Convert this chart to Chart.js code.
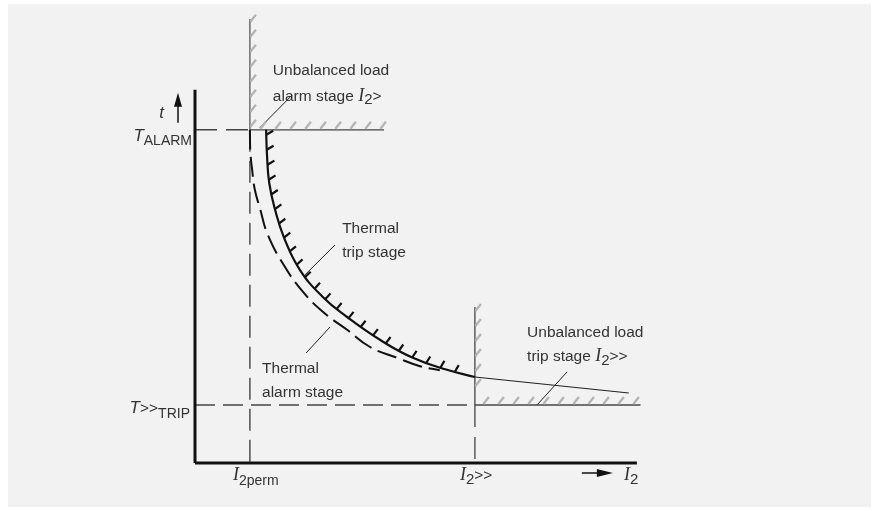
<!DOCTYPE html>
<html>
<head>
<meta charset="utf-8">
<script src="https://cdn.jsdelivr.net/npm/chart.js@4"></script>
<style>
  body { margin: 0; background: #fff; }
  canvas { display: block; }
</style>
</head>
<body>
<canvas id="curve" width="879" height="511"></canvas>
<script>
// characteristic levels (x = negative sequence current I2, y = time t)
const iPerm = 1.22;
const iHigh = 6.22;
const tAlarm = 8.33;
const tTrip = 1.45;
const xAxisEnd = 9.82;
const yAxisTop = 9.33;
const alarmBoundTop = 11.1;
const alarmBoundEnd = 4.2;
const highBoundTop = 3.9;
const tripBoundEnd = 9.9;

// thermal trip stage (solid curve)
const tripI = [1.58, 1.6, 1.65, 1.78, 1.98, 2.33, 2.84, 3.38, 4.11, 4.84, 5.6, 6.22];
const tripT = [8.33, 7.7, 7.0, 6.33, 5.63, 4.83, 4.15, 3.65, 3.08, 2.63, 2.33, 2.15];

// thermal alarm stage (dashed curve)
const alarmI = [1.22, 1.23, 1.27, 1.33, 1.44, 1.62, 2.0, 2.4, 2.84, 3.38, 3.89, 4.49, 5.0, 5.44];
const alarmT = [8.33, 7.78, 7.33, 6.83, 6.38, 5.7, 4.9, 4.28, 3.78, 3.33, 2.9, 2.63, 2.42, 2.32];

// continuation of the trip curve beyond I2>>
const highI = [6.22, 9.64];
const highT = [2.15, 1.75];

// leader lines from the notes to the curves
const leaders = [
  [[1.44, 8.38], [2.16, 9.2]],
  [[2.44, 4.7], [3.11, 5.45]],
  [[3.0, 3.4], [2.47, 2.75]],
  [[7.6, 1.45], [8.27, 2.28]]
];

const SANS = '"Liberation Sans", Arial, sans-serif';
const SERIF = '"Liberation Serif", "Times New Roman", serif';
const styles = {
  r: { font: '15.5px ' + SANS, dy: 0 },
  I: { font: 'italic 18px ' + SERIF, dy: 0 },
  sub: { font: '15px ' + SANS, dy: 3.5 },
  small: { font: '14px ' + SANS, dy: 4.5 },
  it: { font: 'italic 17px ' + SANS, dy: 0 }
};

const notes = [
  { i: 1.73, t: 9.83, parts: [['Unbalanced load', 'r']] },
  { i: 1.73, t: 9.2, parts: [['alarm stage ', 'r'], ['I', 'I'], ['2', 'sub'], ['>', 'r']] },
  { i: 3.27, t: 5.9, parts: [['Thermal', 'r']] },
  { i: 3.27, t: 5.3, parts: [['trip stage', 'r']] },
  { i: 1.49, t: 2.4, parts: [['Thermal', 'r']] },
  { i: 1.49, t: 1.8, parts: [['alarm stage', 'r']] },
  { i: 7.38, t: 3.28, parts: [['Unbalanced load', 'r']] },
  { i: 7.38, t: 2.68, parts: [['trip stage ', 'r'], ['I', 'I'], ['2', 'sub'], ['>>', 'r']] }
];

function pts(xs, ys) {
  return xs.map((x, k) => ({ x: x, y: ys[k] }));
}

function seg(data, color, width, dash) {
  return {
    data: data, showLine: true, borderColor: color, borderWidth: width,
    borderDash: dash || [], pointRadius: 0, fill: false, tension: 0, clip: false
  };
}

function richText(ctx, x, y, parts, align) {
  let w = 0;
  parts.forEach(p => { ctx.font = styles[p[1]].font; p.w = ctx.measureText(p[0]).width; w += p.w; });
  let cx = align === 'right' ? x - w : x;
  parts.forEach(p => {
    ctx.font = styles[p[1]].font;
    ctx.fillText(p[0], cx, y + styles[p[1]].dy);
    cx += p.w;
  });
}

function hatch(ctx, x1, y1, x2, y2, first, step) {
  const len = Math.hypot(x2 - x1, y2 - y1);
  for (let d = first; d <= len; d += step) {
    const px = x1 + (x2 - x1) * d / len, py = y1 + (y2 - y1) * d / len;
    ctx.beginPath();
    ctx.moveTo(px + 0.5, py - 1);
    ctx.lineTo(px + 6, py - 8);
    ctx.stroke();
  }
}

const TRIP_INDEX = 0;

const decorations = {
  id: 'decorations',
  beforeDraw(chart) {
    const ctx = chart.ctx;
    ctx.save();
    ctx.fillStyle = '#f2f2f2';
    ctx.fillRect(8, 4, 863, 503);
    ctx.restore();
  },
  afterDatasetsDraw(chart) {
    const ctx = chart.ctx;
    const xs = chart.scales.x, ys = chart.scales.y;
    const X = v => xs.getPixelForValue(v), Y = v => ys.getPixelForValue(v);
    ctx.save();

    // grey hatching on the boundary lines
    ctx.strokeStyle = '#b4b4b4';
    ctx.lineWidth = 2.3;
    ctx.lineCap = 'butt';
    hatch(ctx, X(iPerm), Y(tAlarm) - 2, X(iPerm), Y(alarmBoundTop), 0, 15);
    hatch(ctx, X(iPerm) + 10, Y(tAlarm), X(alarmBoundEnd), Y(tAlarm), 0, 15);
    hatch(ctx, X(iHigh), Y(tTrip) - 18, X(iHigh), Y(highBoundTop), 0, 15);
    hatch(ctx, X(iHigh) + 8, Y(tTrip), X(tripBoundEnd), Y(tTrip), 0, 15);

    // ticks on the thermal trip curve
    const p = chart.getDatasetMeta(TRIP_INDEX).data;
    const poly = [];
    for (let k = 0; k < p.length - 1; k++) {
      const a = p[k], b = p[k + 1];
      const c1x = a.cp2x ?? a.x, c1y = a.cp2y ?? a.y;
      const c2x = b.cp1x ?? b.x, c2y = b.cp1y ?? b.y;
      for (let s = 0; s < 30; s++) {
        const u = s / 30, v = 1 - u;
        poly.push([
          v * v * v * a.x + 3 * v * v * u * c1x + 3 * v * u * u * c2x + u * u * u * b.x,
          v * v * v * a.y + 3 * v * v * u * c1y + 3 * v * u * u * c2y + u * u * u * b.y
        ]);
      }
    }
    poly.push([p[p.length - 1].x, p[p.length - 1].y]);
    ctx.strokeStyle = '#111';
    ctx.lineWidth = 2.2;
    let acc = 0, next = 5;
    const stop = X(5.85);
    outer:
    for (let k = 0; k < poly.length - 1; k++) {
      const [ax, ay] = poly[k], [bx, by] = poly[k + 1];
      const len = Math.hypot(bx - ax, by - ay);
      if (len === 0) continue;
      while (acc + len >= next) {
        const r = (next - acc) / len;
        const px = ax + (bx - ax) * r, py = ay + (by - ay) * r;
        if (px > stop) break outer;
        const tx = (bx - ax) / len, ty = (by - ay) / len;
        const nAng = Math.atan2(tx, ty); // angle of outward normal above horizontal
        const ang = 0.52 + 0.4 * nAng;
        ctx.beginPath();
        ctx.moveTo(px, py);
        ctx.lineTo(px + 8 * Math.cos(ang), py - 8 * Math.sin(ang));
        ctx.stroke();
        next += 15;
      }
      acc += len;
    }

    // arrows on the axes
    ctx.fillStyle = '#111';
    ctx.strokeStyle = '#111';
    ctx.lineWidth = 1.5;
    const ax = X(0) - 17, at = Y(yAxisTop) + 3;
    ctx.beginPath(); ctx.moveTo(ax, at + 10); ctx.lineTo(ax, at + 30); ctx.stroke();
    ctx.beginPath(); ctx.moveTo(ax, at); ctx.lineTo(ax - 4, at + 14); ctx.lineTo(ax + 4, at + 14); ctx.closePath(); ctx.fill();
    const bx = X(xAxisEnd) - 24, by = Y(0) + 10;
    ctx.beginPath(); ctx.moveTo(bx - 31, by); ctx.lineTo(bx - 10, by); ctx.stroke();
    ctx.beginPath(); ctx.moveTo(bx, by); ctx.lineTo(bx - 16, by - 4); ctx.lineTo(bx - 16, by + 4); ctx.closePath(); ctx.fill();

    // texts
    ctx.fillStyle = '#333';
    ctx.textBaseline = 'alphabetic';
    notes.forEach(n => richText(ctx, X(n.i), Y(n.t) + 5.5, n.parts.map(q => q.slice()), 'left'));
    richText(ctx, X(0) - 31, Y(yAxisTop) + 28, [['t', 'it']], 'right');
    richText(ctx, X(0) - 3, Y(tAlarm) + 11, [['T', 'it'], ['ALARM', 'small']], 'right');
    richText(ctx, X(0) - 5, Y(tTrip) + 8, [['T', 'it'], ['>>', 'r'], ['TRIP', 'small']], 'right');
    richText(ctx, X(iPerm) - 17, Y(0) + 17, [['I', 'I'], ['2perm', 'small']], 'left');
    richText(ctx, X(iHigh) - 15, Y(0) + 17, [['I', 'I'], ['2', 'sub'], ['>>', 'r']], 'left');
    richText(ctx, X(xAxisEnd) - 13, Y(0) + 17, [['I', 'I'], ['2', 'sub']], 'left');
    ctx.restore();
  }
};

const datasets = [
  seg(pts(tripI, tripT), '#111', 2.2),
  seg(pts(alarmI, alarmT), '#111', 2, [20, 7]),
  seg(pts(highI, highT), '#222', 1.2),
  seg(pts([0, 0], [0, yAxisTop]), '#111', 3),
  seg(pts([0, xAxisEnd], [0, 0]), '#111', 3),
  seg(pts([iPerm, iPerm], [tAlarm, alarmBoundTop]), '#555', 1.3),
  seg(pts([iPerm, alarmBoundEnd], [tAlarm, tAlarm]), '#444', 1.3),
  seg(pts([0, iPerm], [tAlarm, tAlarm]), '#444', 1.4, [22, 9]),
  seg(pts([iPerm, iPerm], [tAlarm, 0]), '#444', 1.4, [22, 9]),
  seg(pts([0, iHigh], [tTrip, tTrip]), '#444', 1.4, [20, 8]),
  seg(pts([iHigh, tripBoundEnd], [tTrip, tTrip]), '#444', 1.3),
  seg(pts([iHigh, iHigh], [highBoundTop, tTrip]), '#444', 1.3),
  seg(pts([iHigh, iHigh], [tTrip, 0]), '#444', 1.3, [22, 10])
];
datasets[0].tension = 0.45;
datasets[1].tension = 0.45;
leaders.forEach(l => datasets.push(seg(pts([l[0][0], l[1][0]], [l[0][1], l[1][1]]), '#222', 1)));

new Chart(document.getElementById('curve').getContext('2d'), {
  type: 'scatter',
  data: { datasets: datasets },
  options: {
    responsive: false,
    animation: false,
    devicePixelRatio: 1,
    layout: { padding: { left: 195, right: 234, top: 14, bottom: 48 } },
    scales: {
      x: { type: 'linear', min: 0, max: 10, display: false },
      y: { type: 'linear', min: 0, max: 11.225, display: false }
    },
    plugins: { legend: { display: false }, tooltip: { enabled: false } }
  },
  plugins: [decorations]
});
</script>
</body>
</html>
